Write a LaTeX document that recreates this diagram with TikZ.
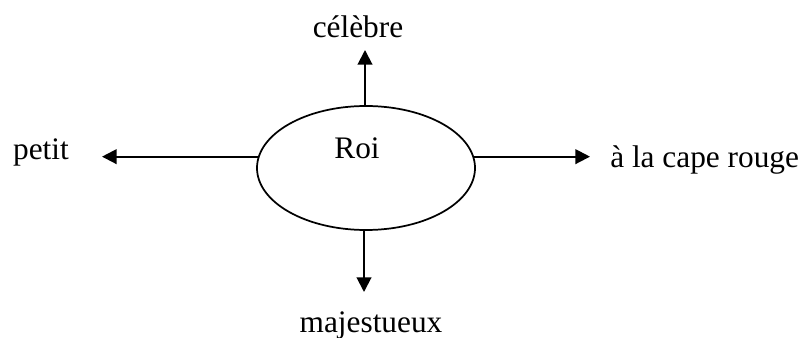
\documentclass[tikz,border=0pt]{standalone}
\usepackage{fontspec}
\setmainfont{Liberation Serif}
\usetikzlibrary{arrows.meta,shapes.geometric}
\begin{document}
\begin{tikzpicture}[x=0.75pt,y=-0.75pt,
  lbl/.style={anchor=base,inner sep=0pt,font=\fontsize{23.5}{28}\selectfont},
  arr/.style={line width=1.5pt,-{Triangle[length=11pt,width=11pt]}},
  bubble/.style={ellipse,draw,line width=1.3pt,minimum width=163.5pt,minimum height=93pt,inner sep=0pt}]
\useasboundingbox (0,0) rectangle (805,338);
\node[bubble] (roi) at (366,168) {};
\node[lbl] (roitext) at (357,159) {Roi};
\node[lbl] (celebre) at (358,38) {célèbre};
\node[lbl] (petit) at (41,160) {petit};
\node[lbl,anchor=base west] (cape) at (610,168) {à la cape rouge};
\node[lbl] (maj) at (371,332) {majestueux};
\coordinate (ttip) at (365,50);
\coordinate (btip) at (364,292);
\coordinate (ltip) at (102,157);
\coordinate (rtip) at (590,157);
\coordinate (tstart) at (roi.north -| ttip);
\coordinate (bstart) at (roi.south -| btip);
\draw[arr] (tstart) -- (ttip);
\draw[arr] (bstart) -- (btip);
\draw[arr] (roi.174) -- (roi.174 -| ltip);
\draw[arr] (roi.6) -- (roi.6 -| rtip);
\end{tikzpicture}
\end{document}
